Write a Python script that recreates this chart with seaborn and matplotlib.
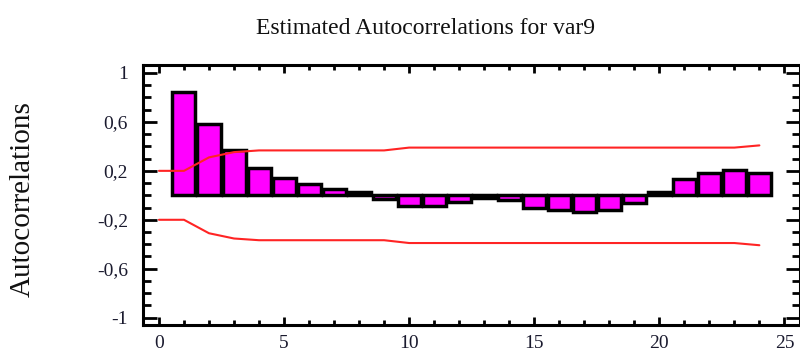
import numpy as np
import seaborn as sns
import matplotlib.pyplot as plt
from matplotlib.ticker import FixedLocator, MultipleLocator, FuncFormatter

# Data
LAGS = list(range(1, 25))
ACF = [0.843, 0.585, 0.367, 0.223, 0.145, 0.096, 0.051, 0.024,
       -0.028, -0.087, -0.087, -0.057, -0.018, -0.035, -0.100, -0.120,
       -0.140, -0.120, -0.065, 0.030, 0.130, 0.185, 0.205, 0.185]
BAND_LAGS = list(range(0, 25))
UPPER = [0.2, 0.2, 0.31, 0.353, 0.367, 0.367, 0.367, 0.367, 0.367, 0.367,
         0.39, 0.39, 0.39, 0.39, 0.39, 0.39, 0.39, 0.39, 0.39, 0.39,
         0.39, 0.39, 0.39, 0.39, 0.408]
LOWER = [-u for u in UPPER]
Y_TICKS = [-1, -0.6, -0.2, 0.2, 0.6, 1]

TITLE = "Estimated Autocorrelations for var9"
YLABEL = "Autocorrelations"

sns.set_theme(style="ticks")
plt.rcParams["font.family"] = ["Liberation Serif", "DejaVu Serif"]

fig = plt.figure(figsize=(8.0, 3.52), dpi=100)
ax = fig.add_axes([0.179, 0.0767, 0.8215, 0.7386])

sns.barplot(x=LAGS, y=ACF, native_scale=True, width=0.92, color="#ff00ff",
            saturation=1, edgecolor="black", linewidth=2.5, ax=ax)
sns.lineplot(x=BAND_LAGS, y=UPPER, color="#ff2424", linewidth=1.5, ax=ax)
sns.lineplot(x=BAND_LAGS, y=LOWER, color="#ff2424", linewidth=1.5, ax=ax)

ax.set_xlim(-0.63, 25.64)
ax.set_ylim(-1.06, 1.065)

ax.xaxis.set_major_locator(FixedLocator([0, 5, 10, 15, 20, 25]))
ax.xaxis.set_minor_locator(MultipleLocator(1))
ax.xaxis.set_major_formatter(FuncFormatter(lambda v, p: f"{int(round(v))}"))
ax.yaxis.set_major_locator(FixedLocator(Y_TICKS))
ax.yaxis.set_minor_locator(MultipleLocator(0.1))


def comma_fmt(v, pos):
    if abs(v - round(v)) < 1e-9:
        return str(int(round(v)))
    return f"{v:.1f}".replace(".", ",")


ax.yaxis.set_major_formatter(FuncFormatter(comma_fmt))

for s in ax.spines.values():
    s.set_linewidth(2.2)
    s.set_color("black")
    s.set_visible(True)

ax.tick_params(axis="both", which="both", direction="in", color="black",
               width=2.0, top=True, right=True, labelsize=14, labelcolor="#1a1a2e")
ax.tick_params(axis="y", which="major", length=10, pad=11)
ax.tick_params(axis="y", which="minor", length=5.5)
ax.tick_params(axis="x", which="major", length=6, pad=7)
ax.tick_params(axis="x", which="minor", length=3.5)

ax.set_xlabel("")
ax.set_ylabel("")
fig.text(0.532, 0.903, TITLE, ha="center", va="baseline", fontsize=17, color="#111111")
fig.text(0.029, 0.435, YLABEL, ha="center", va="center", rotation=90,
         fontsize=21, color="#111111")

fig.savefig("out.png", dpi=100)
